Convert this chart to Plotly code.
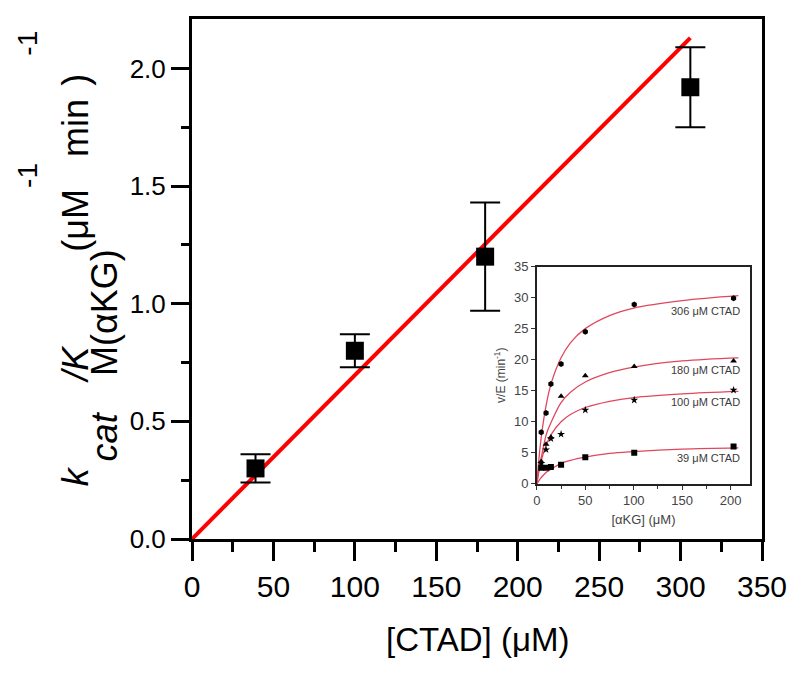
import plotly.graph_objects as go

# ---------------- main plot data ----------------
ctad = [39, 100, 180, 306]
kcat_km = [0.30, 0.80, 1.20, 1.92]
kcat_km_err = [0.06, 0.07, 0.23, 0.17]
fit_x = [0, 306]
fit_y = [0, 2.13]

x_ticks = [0, 50, 100, 150, 200, 250, 300, 350]
y_ticks = [0.0, 0.5, 1.0, 1.5, 2.0]

# ---------------- inset data ----------------
akg = [4.5, 9.5, 14.5, 25, 50, 100.5, 203]
v_306 = [8.3, 11.4, 16.1, 19.3, 24.5, 28.9, 29.9]
v_180 = [3.6, 6.4, 7.5, 14.1, 17.4, 18.9, 19.8]
v_100 = [3.3, 5.5, 7.3, 8.0, 11.9, 13.5, 15.1]
v_39 = [2.6, 2.6, 2.7, 3.1, 4.3, 5.0, 6.0]

curve_x = [0, 2, 5, 10, 15, 25, 35, 50, 75, 100, 150, 208]
curve_306 = [0, 3.8, 8.1, 13.0, 16.3, 20.3, 22.8, 25.0, 27.1, 28.3, 29.5, 30.3]
curve_180 = [0, 2.3, 4.6, 8.1, 10.0, 13.1, 14.8, 16.4, 17.9, 18.8, 19.8, 20.3]
curve_100 = [0, 1.9, 4.0, 6.4, 8.0, 10.0, 11.2, 12.3, 13.3, 13.9, 14.5, 14.9]
curve_39 = [0, 0.5, 1.1, 1.9, 2.4, 3.3, 3.8, 4.3, 4.9, 5.2, 5.6, 5.8]

labels = ["306 μM CTAD", "180 μM CTAD", "100 μM CTAD", "39 μM CTAD"]
label_y = [27.8, 18.3, 13.2, 4.2]

FONT = "Liberation Sans, Arial, sans-serif"

# plot-area geometry in page pixels (page has an 8px body margin)
PX0, PX1, PY0, PY1 = 192, 762, 12, 539


def px(x):
    return (x - PX0) / (PX1 - PX0)


def py(y):
    return (PY1 - y) / (PY1 - PY0)


fig = go.Figure()

# fitted line
fig.add_trace(go.Scatter(x=fit_x, y=fit_y, mode="lines",
                         line=dict(color="#ff0000", width=4),
                         showlegend=False, hoverinfo="skip"))
# data with error bars
fig.add_trace(go.Scatter(x=ctad, y=kcat_km, mode="markers",
                         marker=dict(symbol="square", size=18, color="black"),
                         error_y=dict(type="data", array=kcat_km_err, visible=True,
                                      color="black", thickness=2, width=15),
                         showlegend=False))

# inset curves
curve_color = "#e0475e"
for cy in [curve_306, curve_180, curve_100, curve_39]:
    fig.add_trace(go.Scatter(x=curve_x, y=cy, mode="lines", line_shape="spline",
                             line=dict(color=curve_color, width=1.3),
                             xaxis="x2", yaxis="y2", showlegend=False))

symbols = ["hexagon", "triangle-up", "star", "square"]
for vals, sym in zip([v_306, v_180, v_100, v_39], symbols):
    fig.add_trace(go.Scatter(x=akg, y=vals, mode="markers",
                             marker=dict(symbol=sym, size=6, color="black"),
                             xaxis="x2", yaxis="y2", showlegend=False))

for t, yy in zip(labels, label_y):
    fig.add_annotation(x=212, y=yy, xref="x2", yref="y2", text=t, showarrow=False,
                       xanchor="right", yanchor="middle",
                       font=dict(family=FONT, size=11, color="#3a3a3a"))

# y-axis title pieces (Origin-style large sub/superscripts)
main_x, sub_x, sup_x = 75.5, 104, 28
title_parts = [
    ("<i>k</i>", main_x, 476, 36),
    ("<i>cat</i>", sub_x, 435, 36),
    ("<i>/K</i>", main_x, 362, 36),
    ("M(αKG)", sub_x, 310, 36),
    ("(μM", main_x, 216, 36),
    ("-1", sup_x, 171, 28),
    ("min", main_x, 123, 36),
    ("-1", sup_x, 37, 28),
    (")", main_x, 74, 36),
]
for txt, xx, yy, fs in title_parts:
    fig.add_annotation(x=px(xx), y=py(yy), xref="paper", yref="paper", text=txt,
                       textangle=-90, showarrow=False, xanchor="center", yanchor="middle",
                       font=dict(family=FONT, size=fs, color="black"))

# x-axis title
fig.add_annotation(x=0.5, y=py(641), xref="paper", yref="paper", text="[CTAD] (μM)",
                   showarrow=False, xanchor="center", yanchor="middle",
                   font=dict(family=FONT, size=33, color="black"))

fig.update_layout(
    width=792, height=669,
    margin=dict(l=184, r=38, t=4, b=138),
    paper_bgcolor="white", plot_bgcolor="white",
    font=dict(family=FONT, color="black"),
    xaxis=dict(range=[0, 350], tickvals=x_ticks,
               ticks="outside", ticklen=19, tickwidth=2.5, tickcolor="black",
               minor=dict(tickvals=[25, 75, 125, 175, 225, 275, 325], ticks="outside",
                          ticklen=10, tickwidth=2.5, tickcolor="black"),
               showline=True, linecolor="black", linewidth=3, mirror=True,
               showgrid=False, zeroline=False,
               tickfont=dict(size=30)),
    yaxis=dict(range=[0, 2.21], tickvals=y_ticks, tickformat=".1f",
               ticks="outside", ticklen=18, tickwidth=2.5, tickcolor="black",
               minor=dict(tickvals=[0.25, 0.75, 1.25, 1.75], ticks="outside",
                          ticklen=8, tickwidth=2.5, tickcolor="black"),
               showline=True, linecolor="black", linewidth=3, mirror=True,
               showgrid=False, zeroline=False,
               tickfont=dict(size=26)),
    xaxis2=dict(domain=[0.605, 0.979], anchor="y2", range=[0, 220],
                tickvals=[0, 50, 100, 150, 200], ticks="outside", ticklen=4,
                tickcolor="#333", tickwidth=1,
                minor=dict(tickvals=[25, 75, 125, 175], ticks="outside", ticklen=3,
                           tickcolor="#333"),
                showline=True, linecolor="#222", linewidth=1.5, mirror=True,
                showgrid=False, zeroline=False,
                tickfont=dict(size=13, color="#444"),
                title=dict(text="[αKG] (μM)", font=dict(size=13, color="#444"), standoff=8)),
    yaxis2=dict(domain=[0.106, 0.524], anchor="x2", range=[0, 35],
                tickvals=[0, 5, 10, 15, 20, 25, 30, 35], ticks="outside", ticklen=4,
                tickcolor="#333", tickwidth=1,
                showline=True, linecolor="#222", linewidth=1.5, mirror=True,
                showgrid=False, zeroline=False,
                tickfont=dict(size=13, color="#444"),
                title=dict(text="v/E (min<sup>-1</sup>)", font=dict(size=12, color="#444"), standoff=6)),
)

# white background for inset
fig.add_shape(type="rect", xref="paper", yref="paper", x0=0.605, x1=0.979, y0=0.106, y1=0.524,
              fillcolor="white", line=dict(width=0), layer="below")

fig.write_html("out.html")
